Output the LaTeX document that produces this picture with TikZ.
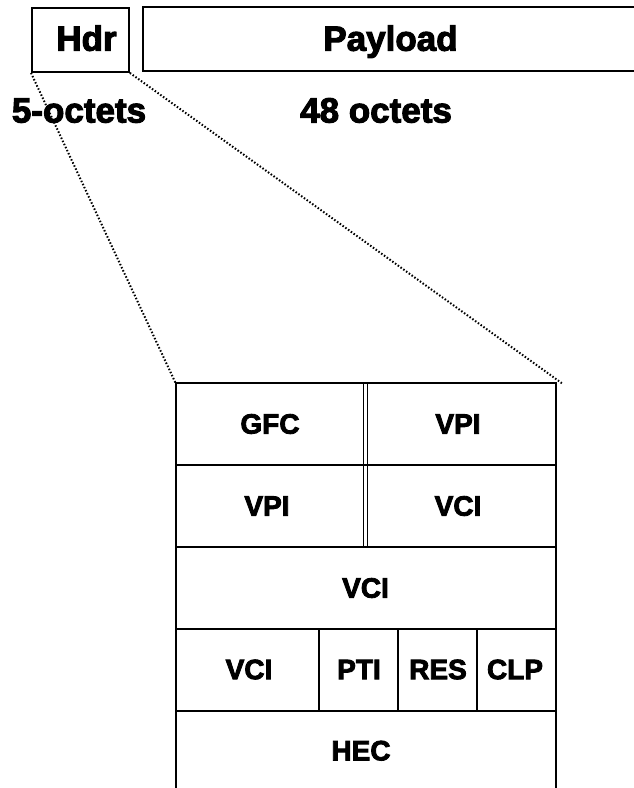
\documentclass[tikz,border=0pt]{standalone}
\usepackage{fontspec}
\newfontfamily\heavy{Liberation Sans Bold}[FakeBold=3]
\begin{document}
\begin{tikzpicture}[x=1pt,y=-1pt,
  frame/.style={line width=1.9pt},
  thin/.style={line width=1.3pt},
  big/.style={font=\heavy\fontsize{35}{40}\selectfont, inner sep=0pt},
  cell/.style={font=\heavy\fontsize{28}{32}\selectfont, inner sep=0pt},
  zoomline/.style={line width=2pt, dash pattern=on 1.5pt off 1.9pt}]
\useasboundingbox (0,0) rectangle (633,788);

% cell layout: header box and payload box
\node[draw, frame, minimum width=97pt, minimum height=64pt, inner sep=0pt,
      anchor=north west] (hdr) at (31,7) {};
\node[big, anchor=base] (hdrtext) at (86.5,50.7) {Hdr};

\coordinate (pl-ne) at (634,7);
\coordinate (pl-nw) at (143.3,7);
\coordinate (pl-sw) at (143.3,71);
\coordinate (pl-se) at (634,71);
\draw[frame] (pl-ne) -- (pl-nw) -- (pl-sw) -- (pl-se);
\node[big, anchor=base] (pltext) at (390.5,50.7) {Payload};

\node[big, anchor=base west] (hdrlen) at (11.7,122.5) {5-octets};
\node[big, anchor=base west] (pllen) at (300,122.5) {48 octets};

% header fields table
\coordinate (tl) at (175.7,383.3);
\coordinate (tr) at (555.7,383.3);
\coordinate (bl) at (175.7,792);
\coordinate (br) at (555.7,792);
\draw[frame] (bl) -- (tl) -- (tr) -- (br);
\foreach \y in {465,546.7,629,710.7}
  \draw[frame] (175.7,\y) -- (555.7,\y);
\foreach \x in {363.3,367.7}
  \draw[thin] (\x,383.3) -- (\x,546.7);
\foreach \x in {319.3,398.3,477}
  \draw[frame] (\x,629) -- (\x,710.7);

% zoom lines from the header box to the table
\coordinate (zr) at (562,383.3);
\draw[zoomline] (hdr.south west) -- (tl);
\draw[zoomline] (hdr.south east) -- (zr);

% field names
\node[cell] (gfc)  at (270,424)   {GFC};
\node[cell] (vpia) at (458,424)   {VPI};
\node[cell] (vpib) at (267,506)   {VPI};
\node[cell] (vcia) at (458,506)   {VCI};
\node[cell] (vcib) at (365.5,588) {VCI};
\node[cell] (vcic) at (249,669.5) {VCI};
\node[cell] (pti)  at (359,669.5) {PTI};
\node[cell] (res)  at (438,669.5) {RES};
\node[cell] (clp)  at (515,669.5) {CLP};
\node[cell] (hec)  at (361,750.7) {HEC};
\end{tikzpicture}
\end{document}
